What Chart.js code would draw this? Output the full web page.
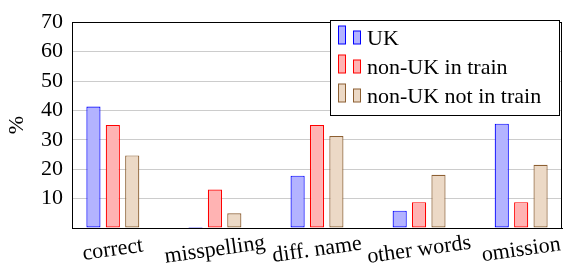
<!DOCTYPE html>
<html><head><meta charset="utf-8">
<script src="https://cdn.jsdelivr.net/npm/chart.js@4"></script>
<style>html,body{margin:0;padding:0;background:#fff}</style>
</head><body>
<canvas id="c" width="566" height="271" style="width:566px;height:271px;display:block"></canvas>
<script>
const categories = ['correct', 'misspelling', 'diff. name', 'other words', 'omission'];
const seriesNames = ['UK', 'non-UK in train', 'non-UK not in train'];
const ukValues = [41.3, 0, 17.8, 5.9, 35.5];
const inTrainValues = [35, 13.1, 35, 8.8, 8.8];
const notInTrainValues = [24.7, 5, 31.3, 18.1, 21.5];
const yTicks = [0, 10, 20, 30, 40, 50, 60, 70];

const fills = ['rgb(179,179,255)', 'rgb(255,179,179)', 'rgb(236,217,198)'];
const borders = ['rgb(0,0,255)', 'rgb(255,0,0)', 'rgb(140,95,50)'];
const FONT = '"Liberation Serif", "Times New Roman", serif';

const seriesValues = [ukValues, inTrainValues, notInTrainValues];
const datasets = seriesNames.map((name, s) => ({
  label: name,
  data: seriesValues[s].map((v, i) => ({ x: i, y: v })),
  backgroundColor: fills[s],
  borderColor: borders[s],
  borderWidth: 1.2,
  borderSkipped: false,
  minBarLength: 1,
  categoryPercentage: 0.57,
  barPercentage: 0.73
}));

const framePlugin = {
  id: 'frame',
  afterDraw(chart) {
    const ctx = chart.ctx, ca = chart.chartArea;
    ctx.save();
    // frame
    ctx.strokeStyle = '#000';
    ctx.lineWidth = 1;
    ctx.strokeRect(Math.round(ca.left) + 0.5, Math.round(ca.top) + 0.5,
      Math.round(ca.right - ca.left) - 1, Math.round(ca.bottom - ca.top));
    // x tick labels, rotated
    const xs = chart.scales.x;
    ctx.fillStyle = '#000';
    ctx.font = '22px ' + FONT;
    ctx.textAlign = 'center';
    ctx.textBaseline = 'middle';
    categories.forEach((c, i) => {
      const px = xs.getPixelForValue(i);
      ctx.save();
      ctx.translate(px, 250);
      ctx.rotate(-8 * Math.PI / 180);
      ctx.fillText(c, 0, 0);
      ctx.restore();
    });
    // legend
    const lx = 330.5, ly = 20.5, lw = 229, lh = 95;
    ctx.fillStyle = '#fff';
    ctx.fillRect(lx, ly, lw, lh);
    ctx.strokeStyle = '#000';
    ctx.strokeRect(lx, ly, lw, lh);
    ctx.textAlign = 'left';
    ctx.textBaseline = 'alphabetic';
    chart.data.datasets.forEach((ds, s) => {
      const base = 44 + 29 * s;
      ctx.fillStyle = ds.backgroundColor;
      ctx.strokeStyle = ds.borderColor;
      ctx.fillRect(338.5, base - 18, 7, 18);
      ctx.strokeRect(338.5, base - 18, 7, 18);
      ctx.fillRect(353.5, base - 13, 7, 13);
      ctx.strokeRect(353.5, base - 13, 7, 13);
      ctx.fillStyle = '#000';
      ctx.fillText(ds.label, 367, base + 1);
    });
    ctx.restore();
  }
};

new Chart(document.getElementById('c'), {
  type: 'bar',
  data: { datasets },
  options: {
    responsive: false,
    devicePixelRatio: 1,
    animation: false,
    layout: { padding: { left: 0, top: 18, right: 4, bottom: 0 } },
    plugins: { legend: { display: false }, tooltip: { enabled: false } },
    scales: {
      x: {
        type: 'linear',
        min: -0.4,
        max: 4.4,
        offset: false,
        afterBuildTicks: s => { s.ticks = categories.map((_, i) => ({ value: i })); },
        afterFit: s => { s.height = 43; },
        ticks: { display: false },
        grid: { display: false, drawTicks: false, offset: false },
        border: { display: true, color: '#000', width: 1 }
      },
      y: {
        min: 0,
        max: 70,
        afterBuildTicks: s => { s.ticks = yTicks.map(v => ({ value: v })); },
        afterFit: s => { s.width = 72; },
        ticks: {
          padding: 9,
          color: '#000',
          font: { family: FONT, size: 22 },
          callback: v => (v === 0 ? '' : String(v))
        },
        grid: {
          drawTicks: false,
          color: c => (c.tick && (c.tick.value === 0 || c.tick.value === 70)) ? 'rgba(0,0,0,0)' : '#cccccc',
          lineWidth: 1
        },
        border: { display: true, color: '#000', width: 1 },
        title: {
          display: true,
          text: '%',
          color: '#000',
          font: { family: FONT, size: 22 },
          padding: { top: 4, bottom: 0 }
        }
      }
    }
  },
  plugins: [framePlugin]
});
</script>
</body></html>
